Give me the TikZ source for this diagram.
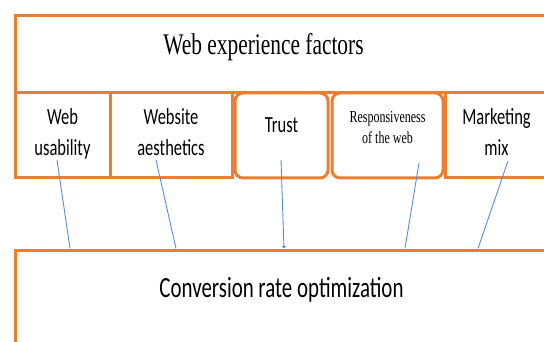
\documentclass[tikz,border=0pt]{standalone}
\usepackage{fontspec}
\setmainfont{Liberation Serif}
\newfontfamily\calibri{Carlito}
\usepackage{graphicx}
\usetikzlibrary{arrows.meta,positioning}
\definecolor{boxorange}{RGB}{237,125,49}
\definecolor{linkblue}{RGB}{91,141,212}
% the printed text is a little stretched upwards
\newcommand{\tallstack}[1]{\scalebox{1}[1.4]{\begin{tabular}[t]{@{}c@{}}#1\end{tabular}}}

\begin{document}
\begin{tikzpicture}[
  x=1pt, y=-1pt,
  node distance=0pt,
  box/.style={draw=boxorange, line width=3pt, outer sep=0pt, inner sep=0pt,
    minimum height=85pt, align=center},
  roundbox/.style={box, rounded corners=8pt},
  sanstext/.style={font=\calibri\fontsize{16.5}{21.5}\selectfont,
    text height=21pt, text depth=42pt},
  link/.style={draw=linkblue, line width=0.9pt}
]
\useasboundingbox (0,0) rectangle (544,342);
\clip (0,0) rectangle (544,342);

\node[box, minimum width=533pt, minimum height=77pt, anchor=north west,
  font=\fontsize{21.4}{25}\selectfont, text height=20pt, text depth=19pt]
  (factors) at (15,16) {\scalebox{1}[1.4]{Web experience factors}\hspace*{36pt}};

\node[box, sanstext, minimum width=95pt, anchor=north west] (usab)
  at (factors.south west) {\tallstack{Web\\usability}};
\node[box, sanstext, minimum width=122pt, right=of usab] (aesth)
  {\tallstack{Website\\aesthetics}};
\node[roundbox, sanstext, text depth=26pt, minimum width=93pt,
  right=3pt of aesth] (trust) {\tallstack{Trust}};
\node[roundbox, font=\fontsize{12}{14.3}\selectfont, text height=14pt,
  text depth=39pt, minimum width=111pt, right=4pt of trust] (resp)
  {\tallstack{Responsiveness\\of the web}};
\node[box, sanstext, minimum width=103pt, right=2pt of resp] (mkt)
  {\tallstack{Marketing\\mix}};

\node[box, minimum width=533pt, minimum height=110pt, anchor=north west,
  font=\calibri\fontsize{20.9}{25}\selectfont, text height=19pt, text depth=35pt]
  (cro) at (15,250) {\scalebox{1}[1.4]{Conversion rate optimization}};

\draw[link] ([xshift=-5.5pt,yshift=18pt]usab.south) -- ([xshift=55pt,yshift=1.5pt]cro.north west);
\draw[link] ([xshift=-15pt,yshift=18pt]aesth.south) -- ([xshift=161pt,yshift=1.5pt]cro.north west);
\draw[link, -{Latex[length=2.5pt,width=5pt]}] ([xshift=-0.5pt,yshift=18pt]trust.south)
  -- ([xshift=269pt,yshift=1.5pt]cro.north west);
\draw[link] ([xshift=31.5pt,yshift=15pt]resp.south) -- ([xshift=390pt,yshift=1.5pt]cro.north west);
\draw[link] ([xshift=11.5pt,yshift=17pt]mkt.south) -- ([xshift=463pt,yshift=1.5pt]cro.north west);
\end{tikzpicture}
\end{document}
